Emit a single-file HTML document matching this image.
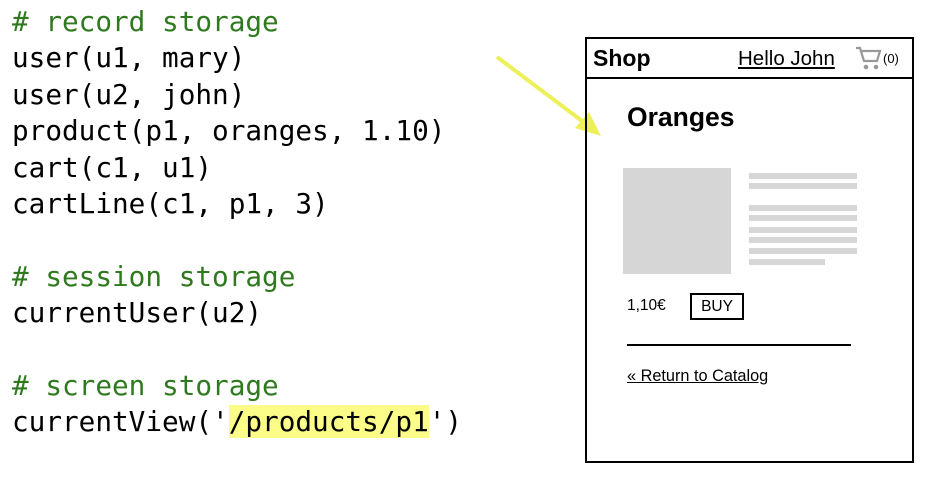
<!DOCTYPE html>
<html><head><meta charset="utf-8"><style>
body{margin:0;width:931px;height:478px;background:#fff;position:relative;overflow:hidden;font-family:"Liberation Sans",Arial,sans-serif}
pre{position:absolute;left:12px;top:4px;margin:0;font-family:"DejaVu Sans Mono","Liberation Mono",monospace;font-size:27.7px;line-height:36.4px;color:#000}
.c{color:#2f7a1f}
.hl{background:#fcfc88}
.a{position:absolute}
.bar{position:absolute;background:#d6d6d6;left:749px;width:108px;height:6px}
</style></head><body>
<pre><span class="c"># record storage</span>
user(u1, mary)
user(u2, john)
product(p1, oranges, 1.10)
cart(c1, u1)
cartLine(c1, p1, 3)

<span class="c"># session storage</span>
currentUser(u2)

<span class="c"># screen storage</span>
currentView('<span class="hl">/products/p1</span>')</pre>
<svg class="a" style="left:0;top:0" width="931" height="478">
<line x1="497" y1="57" x2="586" y2="124" stroke="#eef05a" stroke-width="4"/>
<polygon points="601,136 575,128 589,112" fill="#eef05a"/>
</svg>
<div class="a" style="left:585px;top:37px;width:325px;height:422px;border:2px solid #000"></div>
<div class="a" style="left:585px;top:77px;width:329px;height:2px;background:#000"></div>
<div class="a" style="left:593px;top:45px;font-size:23px;font-weight:bold">Shop</div>
<div class="a" style="left:738px;top:47px;font-size:20.5px;text-decoration:underline">Hello John</div>
<svg class="a" style="left:855px;top:45px" width="28" height="27"><path d="M1 3h4l4 13h13l3-10H7" fill="none" stroke="#999" stroke-width="2.2"/><circle cx="11" cy="22" r="2.3" fill="#999"/><circle cx="21" cy="22" r="2.3" fill="#999"/></svg>
<div class="a" style="left:883px;top:51px;font-size:13px">(0)</div>
<div class="a" style="left:627px;top:102px;font-size:26.5px;font-weight:bold">Oranges</div>
<div class="a" style="left:623px;top:168px;width:108px;height:106px;background:#d6d6d6"></div>
<div class="bar" style="top:173px"></div><div class="bar" style="top:183px"></div>
<div class="bar" style="top:205px"></div><div class="bar" style="top:215px"></div>
<div class="bar" style="top:227px"></div><div class="bar" style="top:237px"></div>
<div class="bar" style="top:248px"></div><div class="bar" style="top:259px;width:76px"></div>
<div class="a" style="left:627px;top:297px;font-size:15.5px">1,10€</div>
<div class="a" style="left:690px;top:293px;width:50px;height:23px;border:2px solid #000;font-size:15.5px;text-align:center;line-height:23px">BUY</div>
<div class="a" style="left:627px;top:344px;width:224px;height:2px;background:#000"></div>
<div class="a" style="left:627px;top:367px;font-size:16.3px;text-decoration:underline">« Return to Catalog</div>
</body></html>
